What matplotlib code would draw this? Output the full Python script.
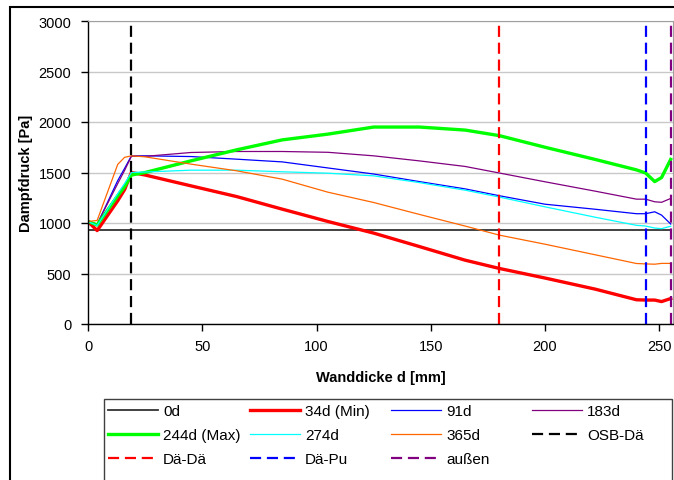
import matplotlib
matplotlib.use("Agg")
import matplotlib.pyplot as plt
from matplotlib.patches import Rectangle

plt.rcParams["font.family"] = ["Liberation Sans", "DejaVu Sans"]

# ── data: vapour pressure through the wall ────────────────────────────────────
# node positions [mm]
x_mm = [0, 4, 13, 16, 19, 25, 45, 65, 85, 105, 125, 145, 165, 180,
        200, 222, 240, 244, 248, 251, 255]

x_0d = [0, 255]
p_0d = [935, 935]

p_34d = [1015, 925, 1220, 1330, 1500, 1475, 1368, 1262, 1137, 1015, 900, 767,
         632, 550, 455, 345, 240, 237, 237, 222, 252]
p_91d = [1015, 985, 1420, 1540, 1665, 1665, 1658, 1632, 1605, 1545, 1485, 1410,
         1338, 1270, 1186, 1136, 1092, 1092, 1111, 1078, 990]
p_183d = [1015, 990, 1390, 1520, 1660, 1660, 1698, 1708, 1708, 1700, 1665, 1615,
          1560, 1495, 1408, 1315, 1236, 1236, 1210, 1205, 1243]
p_244d = [1015, 980, 1270, 1360, 1475, 1500, 1615, 1724, 1823, 1880, 1950, 1950,
          1920, 1865, 1750, 1629, 1526, 1495, 1410, 1450, 1630]
p_274d = [1015, 975, 1290, 1390, 1500, 1505, 1523, 1523, 1507, 1493, 1467, 1400,
          1325, 1257, 1160, 1057, 977, 970, 950, 944, 968]
p_365d = [1015, 1025, 1580, 1650, 1665, 1655, 1583, 1517, 1434, 1305, 1203, 1085,
          970, 880, 790, 685, 599, 595, 592, 600, 600]

# layer boundaries [mm]
bound_names = ["OSB-Dä", "Dä-Dä", "Dä-Pu", "außen"]
bound_x = [19, 180, 244, 255]
bound_colors = ["black", "#ff0000", "#0000ff", "#800080"]

W, H = 674, 481
fig = plt.figure(figsize=(W / 100, H / 100), dpi=100)
ax = fig.add_axes([88 / W, 1 - 325 / H, 585 / W, 303 / H])

# outer chart border
fig.add_artist(Rectangle((10 / W, -0.1), 1.2, 1 - 8 / H + 0.1,
                         transform=fig.transFigure, fill=False,
                         edgecolor="black", linewidth=1.5))

lines = []
lines += ax.plot(x_0d, p_0d, color="#333333", linewidth=1.3, label="0d")
lines += ax.plot(x_mm, p_34d, color="#ff0000", linewidth=2.4, label="34d (Min)")
lines += ax.plot(x_mm, p_91d, color="#0000ff", linewidth=0.9, label="91d")
lines += ax.plot(x_mm, p_183d, color="#800080", linewidth=0.9, label="183d")
lines += ax.plot(x_mm, p_244d, color="#00ff00", linewidth=2.4, label="244d (Max)")
lines += ax.plot(x_mm, p_274d, color="#00ffff", linewidth=0.9, label="274d")
lines += ax.plot(x_mm, p_365d, color="#ff6600", linewidth=0.9, label="365d")
for name, bx, c in zip(bound_names, bound_x, bound_colors):
    lines += ax.plot([bx, bx], [0, 3000], color=c, linewidth=1.6,
                     dashes=(5, 2.6), label=name)

ax.set_xlim(0, 256)
ax.set_ylim(0, 3000)
ax.set_xticks([0, 50, 100, 150, 200, 250])
ax.set_yticks(range(0, 3001, 500))
ax.yaxis.grid(True, color="#c8c8c8", linewidth=1.0)
ax.set_axisbelow(True)
ax.tick_params(axis="both", labelsize=10.5, direction="out", length=5,
               width=1, color="black")
ax.tick_params(axis="x", pad=6)
ax.tick_params(axis="y", pad=7)
for s in ("top", "right"):
    ax.spines[s].set_color("#a0a0a0")
for s in ("left", "bottom"):
    ax.spines[s].set_color("black")
    ax.spines[s].set_linewidth(1.0)

ax.set_xlabel("Wanddicke d [mm]", fontsize=10.5, fontweight="bold", labelpad=12)
ax.set_ylabel("Dampfdruck [Pa]", fontsize=10.5, fontweight="bold", labelpad=4)

# legend box + four columns so that column positions match
fig.add_artist(Rectangle((104 / W, -0.1), 568 / W, 0.1 + 1 - 400 / H,
                         transform=fig.transFigure, fill=False,
                         edgecolor="#404040", linewidth=1.0))
col_x = [108, 250, 391, 532]
for i, cx in enumerate(col_x):
    idx = list(range(i, len(lines), 4))
    fig.legend([lines[j] for j in idx], [lines[j].get_label() for j in idx],
               loc="upper left", bbox_to_anchor=(cx / W, 1 - 405 / H),
               frameon=False, fontsize=11, handlelength=3.3, handletextpad=0.3,
               borderpad=0, borderaxespad=0, labelspacing=0.66)

fig.savefig("out.png", dpi=100)
